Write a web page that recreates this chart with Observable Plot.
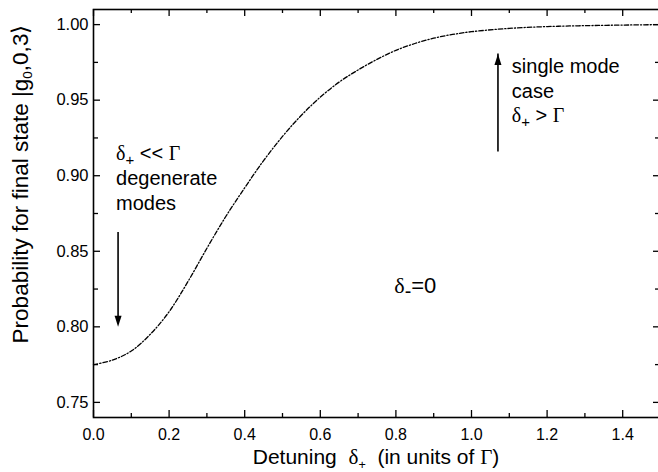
<!DOCTYPE html>
<html><head><meta charset="utf-8">
<script src="https://cdn.jsdelivr.net/npm/d3@7"></script>
<script src="https://cdn.jsdelivr.net/npm/@observablehq/plot@0.6"></script>
<style>body{margin:0;background:#fff;} #chart svg{overflow:visible}</style>
</head><body><div id="chart"></div>
<script>
// curve: probability for final state vs detuning delta+ (in units of Gamma)
const detuning = [0, 0.05, 0.1, 0.15, 0.2, 0.25, 0.3, 0.35, 0.4, 0.45, 0.5, 0.55, 0.6, 0.65, 0.7, 0.75, 0.8, 0.85, 0.9, 0.95, 1.0, 1.1, 1.2, 1.3, 1.4, 1.5];
const probability = [0.775, 0.778, 0.784, 0.795, 0.810, 0.830, 0.852, 0.873, 0.892, 0.910, 0.926, 0.940, 0.952, 0.962, 0.970, 0.977, 0.983, 0.9875, 0.991, 0.9935, 0.9953, 0.9975, 0.9987, 0.9993, 0.9997, 1.000];

const xMajorTicks = [0, 0.2, 0.4, 0.6, 0.8, 1.0, 1.2, 1.4];
const xMinorTicks = [0.1, 0.3, 0.5, 0.7, 0.9, 1.1, 1.3, 1.5];
const yMajorTicks = [0.75, 0.80, 0.85, 0.90, 0.95, 1.00];
const yMinorTicks = [0.775, 0.825, 0.875, 0.925, 0.975];

// arrows: [x, yFrom, yTo]
const arrowDown = [0.065, 0.8625, 0.80];
const arrowUp = [1.07, 0.921, 0.9806];

const W = 658, H = 472, mT = 9, mB = 55, mL = 93, mR = -2;
const plotH = H - mT - mB, plotW = W - mL - mR;
const font = "'Liberation Sans', Arial, Helvetica, sans-serif";

const headDown = {draw(c) { c.moveTo(-3.5, -11); c.lineTo(3.5, -11); c.lineTo(0, 0); c.closePath(); }};
const headUp = {draw(c) { c.moveTo(-3.5, 11); c.lineTo(3.5, 11); c.lineTo(0, 0); c.closePath(); }};

const data = detuning.map((d, i) => ({x: d, y: probability[i]}));

const plot = Plot.plot({
  width: W, height: H,
  marginTop: mT, marginBottom: mB, marginLeft: mL, marginRight: mR,
  style: {fontFamily: font, background: "white", color: "black", overflow: "visible"},
  x: {domain: [0, 1.5], axis: null},
  y: {domain: [0.74, 1.01], axis: null},
  marks: [
    // inward ticks on all four sides
    Plot.tickX(xMajorTicks, {x: d => d, insetTop: plotH - 7, strokeWidth: 1.3}),
    Plot.tickX(xMinorTicks, {x: d => d, insetTop: plotH - 4, strokeWidth: 1.3}),
    Plot.tickX(xMajorTicks, {x: d => d, insetBottom: plotH - 7, strokeWidth: 1.3}),
    Plot.tickX(xMinorTicks, {x: d => d, insetBottom: plotH - 4, strokeWidth: 1.3}),
    Plot.tickY(yMajorTicks, {y: d => d, insetRight: plotW - 7, strokeWidth: 1.3}),
    Plot.tickY(yMinorTicks, {y: d => d, insetRight: plotW - 5, strokeWidth: 1.3}),
    Plot.tickY(yMajorTicks, {y: d => d, insetLeft: plotW - 7, strokeWidth: 1.3}),
    Plot.tickY(yMinorTicks, {y: d => d, insetLeft: plotW - 5, strokeWidth: 1.3}),
    Plot.axisX(xMajorTicks, {anchor: "bottom", tickSize: 0, tickPadding: 11, tickFormat: d3.format(".1f"), fontSize: 16, label: null}),
    Plot.axisY(yMajorTicks, {anchor: "left", tickSize: 0, tickPadding: 5, tickFormat: d3.format(".2f"), fontSize: 16.5, label: null}),
    Plot.line(data, {x: "x", y: "y", curve: "catmull-rom", stroke: "black", strokeWidth: 1.3, strokeDasharray: "4.5,2,1.2,2"}),
    // arrows
    Plot.ruleX([arrowDown], {x: d => d[0], y1: d => d[1], y2: d => d[2], strokeWidth: 1.6, insetBottom: 8}),
    Plot.dot([arrowDown], {x: d => d[0], y: d => d[2], symbol: headDown, fill: "black", stroke: "none"}),
    Plot.ruleX([arrowUp], {x: d => d[0], y1: d => d[1], y2: d => d[2], strokeWidth: 1.6, insetTop: 8}),
    Plot.dot([arrowUp], {x: d => d[0], y: d => d[2], symbol: headUp, fill: "black", stroke: "none"}),
    Plot.frame({stroke: "black", strokeWidth: 1.6})
  ]
});
document.getElementById("chart").appendChild(plot);

// rich text (subscripts, Greek) positioned through the plot's scales
const sx = plot.scale("x"), sy = plot.scale("y");
const svg = d3.select(plot);
const serif = "'Liberation Serif', 'Times New Roman', serif";
function rich(x, y, parts, size, anchor = "start", rotate = 0) {
  const t = svg.append("text").attr("font-family", font).attr("font-size", size)
    .attr("text-anchor", anchor).attr("fill", "black");
  if (rotate) t.attr("transform", `translate(${x},${y}) rotate(${rotate})`);
  else t.attr("x", x).attr("y", y);
  for (const p of parts) {
    const s = t.append("tspan").text(p.t);
    if (p.serif) s.attr("font-family", serif);
    if (p.sub) s.attr("font-size", size * p.sub).attr("dy", p.dy);
    if (p.back) s.attr("dy", p.back);
  }
  return t;
}

// left annotation: δ+ << Γ / degenerate / modes
const leftNote = [0.061, [0.910, 0.8935, 0.877]];
rich(sx.apply(leftNote[0]), sy.apply(leftNote[1][0]), [
  {t: "δ", serif: true}, {t: "+", sub: 0.75, dy: 5}, {t: " << ", back: -5}, {t: "Γ", serif: true}], 20);
rich(sx.apply(leftNote[0]), sy.apply(leftNote[1][1]), [{t: "degenerate"}], 20);
rich(sx.apply(leftNote[0]), sy.apply(leftNote[1][2]), [{t: "modes"}], 20);

// right annotation: single mode / case / δ+ > Γ
const rightNote = [1.108, [0.9674, 0.9508, 0.9353]];
rich(sx.apply(rightNote[0]), sy.apply(rightNote[1][0]), [{t: "single mode"}], 20);
rich(sx.apply(rightNote[0]), sy.apply(rightNote[1][1]), [{t: "case"}], 20);
rich(sx.apply(rightNote[0]), sy.apply(rightNote[1][2]), [
  {t: "δ", serif: true}, {t: "+", sub: 0.75, dy: 5}, {t: " > ", back: -5}, {t: "Γ", serif: true}], 20);

// center label δ- = 0
const centerNote = [0.797, 0.822];
rich(sx.apply(centerNote[0]), sy.apply(centerNote[1]), [
  {t: "δ", serif: true}, {t: "-", sub: 0.9, dy: 5}, {t: "=0", back: -5}], 22);

// axis titles
rich(376, 464, [{t: "Detuning  "}, {t: "δ", serif: true}, {t: "+", sub: 0.6, dy: 5}, {t: "  (in units of ", back: -5}, {t: "Γ", serif: true}, {t: ")"}], 21, "middle");
rich(28, 184, [{t: "Probability for final state |g"}, {t: "0", sub: 0.6, dy: 4}, {t: ",0,3", back: -4}, {t: "⟩", serif: true}], 22.5, "middle", -90);
</script>
</body></html>
